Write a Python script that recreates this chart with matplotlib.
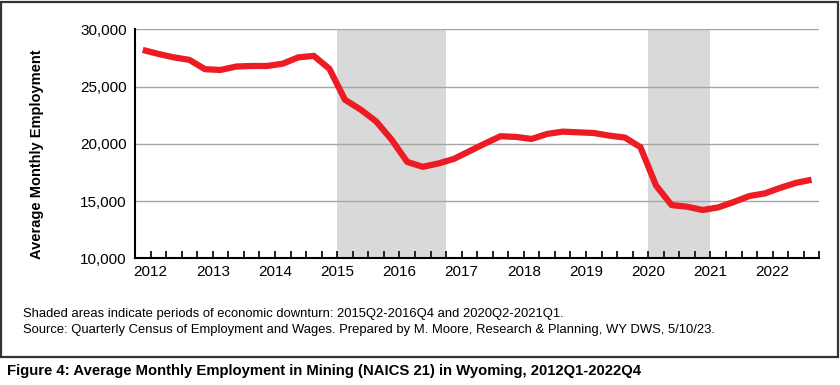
import matplotlib.pyplot as plt
from matplotlib.patches import Rectangle

plt.rcParams['font.family'] = ['Liberation Sans', 'DejaVu Sans']

# quarterly employment, 2012Q1 .. 2022Q4
quarters = [f"{y}Q{q}" for y in range(2012, 2023) for q in range(1, 5)]
employment = [
    28200, 27850, 27550, 27330, 26520, 26450, 26750, 26800,
    26800, 27000, 27550, 27680, 26550, 23850, 23000, 21970,
    20370, 18430, 18000, 18290, 18690, 19360, 20030, 20670,
    20610, 20430, 20870, 21070, 21010, 20950, 20720, 20550,
    19710, 16370, 14660, 14520, 14230, 14460, 14930, 15450,
    15680, 16170, 16600, 16870,
]
year_labels = [str(y) for y in range(2012, 2023)]
downturns = [("2015Q2", "2016Q4"), ("2020Q2", "2021Q1")]

notes = ["Shaded areas indicate periods of economic downturn: 2015Q2-2016Q4 and 2020Q2-2021Q1.",
         "Source: Quarterly Census of Employment and Wages. Prepared by M. Moore, Research & Planning, WY DWS, 5/10/23."]
caption = "Figure 4: Average Monthly Employment in Mining (NAICS 21) in Wyoming, 2012Q1-2022Q4"

fig = plt.figure(figsize=(8.4, 3.85), dpi=100)
ax = fig.add_axes([0.1607, 0.3286, 0.9754 - 0.1607, 0.9239 - 0.3286])

n = len(quarters)
x = list(range(n))

# shaded downturn periods
for start, end in downturns:
    i0 = quarters.index(start)
    i1 = quarters.index(end)
    ax.axvspan(i0 - 0.5, i1 + 0.5, color='#d9d9d9', lw=0, zorder=0)

ax.plot(x, employment, color='#ed1c24', lw=4.5, solid_joinstyle='round',
        solid_capstyle='butt', zorder=3)

ax.set_xlim(-0.5, n - 0.5)
ax.set_ylim(10000, 30000)
ax.set_yticks(range(10000, 30001, 5000))
ax.yaxis.set_major_formatter(plt.FuncFormatter(lambda v, p: f"{int(v):,}"))
ax.grid(axis='y', color='#a6a6a6', lw=1)
ax.set_axisbelow(True)

# quarter boundary ticks, year labels
ax.set_xticks([i - 0.5 for i in range(1, n + 1)], minor=True)
ax.set_xticks([4 * k + 0.5 for k in range(len(year_labels))])
ax.set_xticklabels(year_labels)
ax.tick_params(axis='x', which='both', direction='in', length=5, width=1.2, color='black')
ax.tick_params(axis='x', which='major', labelsize=11, pad=5)
ax.tick_params(axis='y', length=0, labelsize=11, pad=6)

for s in ['top', 'right']:
    ax.spines[s].set_visible(False)
for s in ['left', 'bottom']:
    ax.spines[s].set_linewidth(1.5)
    ax.spines[s].set_color('black')

ax.set_ylabel("Average Monthly Employment", fontsize=10.5, fontweight='bold')
ax.yaxis.set_label_coords(-0.133, 0.454)

fig.text(23 / 840, 1 - 314 / 385, notes[0], fontsize=9.4, va='center', ha='left')
fig.text(23 / 840, 1 - 330 / 385, notes[1], fontsize=9.4, va='center', ha='left')
fig.text(7 / 840, 1 - 371 / 385, caption, fontsize=10.7, fontweight='bold', va='center', ha='left')

fig.patches.append(Rectangle((0.001, 1 - 357 / 385), 837.5 / 840, 355 / 385,
                             transform=fig.transFigure, fill=False, lw=1.6,
                             edgecolor='#333333'))

fig.savefig('out.png', dpi=100)
